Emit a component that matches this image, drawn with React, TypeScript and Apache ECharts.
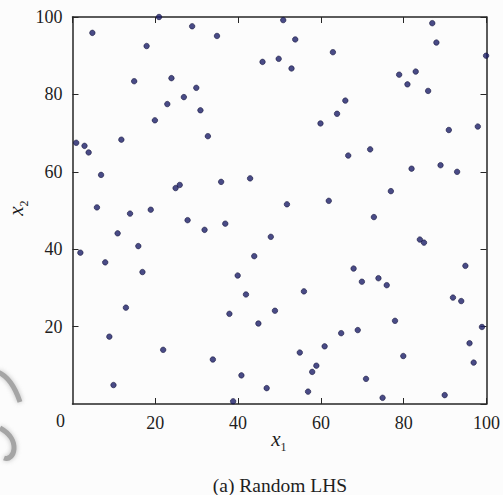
import React, { useEffect, useRef } from "react";
import * as echarts from "echarts";

// Sample coordinates of the 100-point random Latin hypercube design
const x1Values = [
  20.9, 4.8, 28.9, 17.9, 14.9, 23.9, 29.9, 26.9, 22.9, 30.9, 19.9, 32.7, 0.9, 2.9, 3.9, 11.8, 6.9, 24.9, 25.9, 5.9, 18.9,
  50.9, 34.9, 53.8, 62.9, 45.9, 49.8, 52.9, 65.9, 63.9, 59.9, 66.6, 35.9, 42.9, 51.8, 61.9,
  86.9, 87.9, 99.9, 78.9, 82.9, 80.9, 85.9, 90.9, 97.9, 71.9, 81.9, 88.9, 92.9, 76.9,
  13.9, 27.8, 31.9, 10.9, 15.9, 1.9, 7.9, 16.9, 12.9, 8.9, 21.9, 9.9,
  36.9, 47.9, 43.9, 39.9, 41.9, 55.9, 48.9, 37.9, 44.9, 64.9, 60.9, 54.9, 33.9, 58.9, 57.9, 40.8, 46.9, 56.9, 38.8,
  72.8, 83.9, 84.9, 94.9, 67.9, 69.9, 73.9, 75.9, 91.9, 93.9, 77.9, 98.9, 68.9, 95.9, 79.9, 96.9, 70.9, 89.9, 74.9,
];
const x2Values = [
  100.0, 95.9, 97.6, 92.5, 83.4, 84.2, 81.7, 79.3, 77.5, 75.9, 73.3, 69.2, 67.5, 66.7, 65.0, 68.3, 59.2, 55.8, 56.6, 50.8, 50.2,
  99.2, 95.1, 94.2, 90.9, 88.4, 89.2, 86.7, 78.4, 75.0, 72.5, 64.2, 57.4, 58.3, 51.6, 52.5,
  98.4, 93.4, 90.0, 85.1, 85.9, 82.6, 80.9, 70.8, 71.7, 65.8, 60.8, 61.7, 60.0, 55.0,
  49.2, 47.5, 45.0, 44.1, 40.8, 39.1, 36.6, 34.1, 24.9, 17.4, 14.0, 4.9,
  46.6, 43.2, 38.2, 33.2, 28.3, 29.1, 24.1, 23.3, 20.8, 18.3, 14.9, 13.3, 11.5, 9.9, 8.3, 7.4, 4.1, 3.2, 0.7,
  48.3, 42.5, 41.7, 35.7, 35.0, 31.6, 32.5, 30.7, 27.5, 26.6, 21.5, 19.9, 19.1, 15.7, 12.4, 10.7, 6.5, 2.3, 1.6,
];
const axisTicks = [0, 20, 40, 60, 80, 100];

const SERIF = "'Liberation Serif', 'DejaVu Serif', serif";
const AXIS_COLOR = "#262626";

function boxAxis(position: string, labels: boolean) {
  return {
    type: "value",
    position,
    min: axisTicks[0],
    max: axisTicks[axisTicks.length - 1],
    interval: axisTicks[1] - axisTicks[0],
    axisLine: { show: true, onZero: false, lineStyle: { color: AXIS_COLOR, width: 1.5 } },
    axisTick: { show: true, inside: true, length: 6, lineStyle: { color: AXIS_COLOR, width: 1 } },
    axisLabel: {
      show: labels,
      showMinLabel: false,
      fontFamily: SERIF,
      fontSize: 18,
      color: "#1e1e1e",
      margin: 10,
    },
    splitLine: { show: false },
  };
}

export default function App() {
  const ref = useRef<HTMLDivElement>(null);

  useEffect(() => {
    if (!ref.current) return;
    const chart = echarts.init(ref.current, undefined, { renderer: "svg" });
    const points = x1Values.map((x, i) => [x, x2Values[i]]);

    chart.setOption({
      animation: false,
      backgroundColor: "#fcfcfc",
      grid: { left: 72.5, top: 17, width: 415, height: 387, containLabel: false },
      xAxis: [boxAxis("bottom", true), boxAxis("top", false)],
      yAxis: [boxAxis("left", true), boxAxis("right", false)],
      series: [
        {
          type: "scatter",
          xAxisIndex: 0,
          yAxisIndex: 0,
          data: points,
          symbol: "circle",
          symbolSize: 5.5,
          itemStyle: { color: "#1c1e68", borderColor: "#0e0f35", borderWidth: 0.7 },
          clip: false,
        },
      ],
      graphic: [
        // shared origin label
        {
          type: "text",
          x: 60.5,
          y: 421,
          style: { text: "0", font: `18px ${SERIF}`, fill: "#1e1e1e", align: "center", verticalAlign: "middle" },
        },
        // x1 axis title
        {
          type: "group",
          x: 276,
          y: 449,
          children: [
            {
              type: "text",
              x: 0,
              y: 0,
              style: { text: "x", font: `italic 21px ${SERIF}`, fill: "#1e1e1e", align: "center", verticalAlign: "bottom" },
            },
            {
              type: "text",
              x: 7.5,
              y: 4,
              style: { text: "1", font: `12px ${SERIF}`, fill: "#1e1e1e", align: "center", verticalAlign: "bottom" },
            },
          ],
        },
        // x2 axis title
        {
          type: "group",
          x: 26,
          y: 211,
          rotation: Math.PI / 2,
          children: [
            {
              type: "text",
              x: 0,
              y: 0,
              style: { text: "x", font: `italic 21px ${SERIF}`, fill: "#1e1e1e", align: "center", verticalAlign: "bottom" },
            },
            {
              type: "text",
              x: 7.5,
              y: 4,
              style: { text: "2", font: `12px ${SERIF}`, fill: "#1e1e1e", align: "center", verticalAlign: "bottom" },
            },
          ],
        },
        // caption
        {
          type: "text",
          x: 280,
          y: 485,
          style: { text: "(a) Random LHS", font: `19.5px ${SERIF}`, fill: "#1e1e1e", align: "center", verticalAlign: "middle" },
        },
        // faint grey mark at the lower-left edge
        {
          type: "bezierCurve",
          shape: { x1: -2, y1: 372, x2: 20, y2: 402, cpx1: 12, cpy1: 378 },
          style: { stroke: "#a5a5a5", lineWidth: 5, fill: "none", shadowBlur: 5, shadowColor: "#bdbdbd" },
        },
        {
          type: "bezierCurve",
          shape: { x1: 0, y1: 428, x2: 4, y2: 458, cpx1: 22, cpy1: 440, cpx2: 14, cpy2: 462 },
          style: { stroke: "#a5a5a5", lineWidth: 5, fill: "none", shadowBlur: 5, shadowColor: "#bdbdbd" },
        },
      ],
    });

    return () => chart.dispose();
  }, []);

  return (
    <div
      ref={ref}
      style={{ position: "absolute", left: 0, top: 0, width: 503, height: 495 }}
    />
  );
}
